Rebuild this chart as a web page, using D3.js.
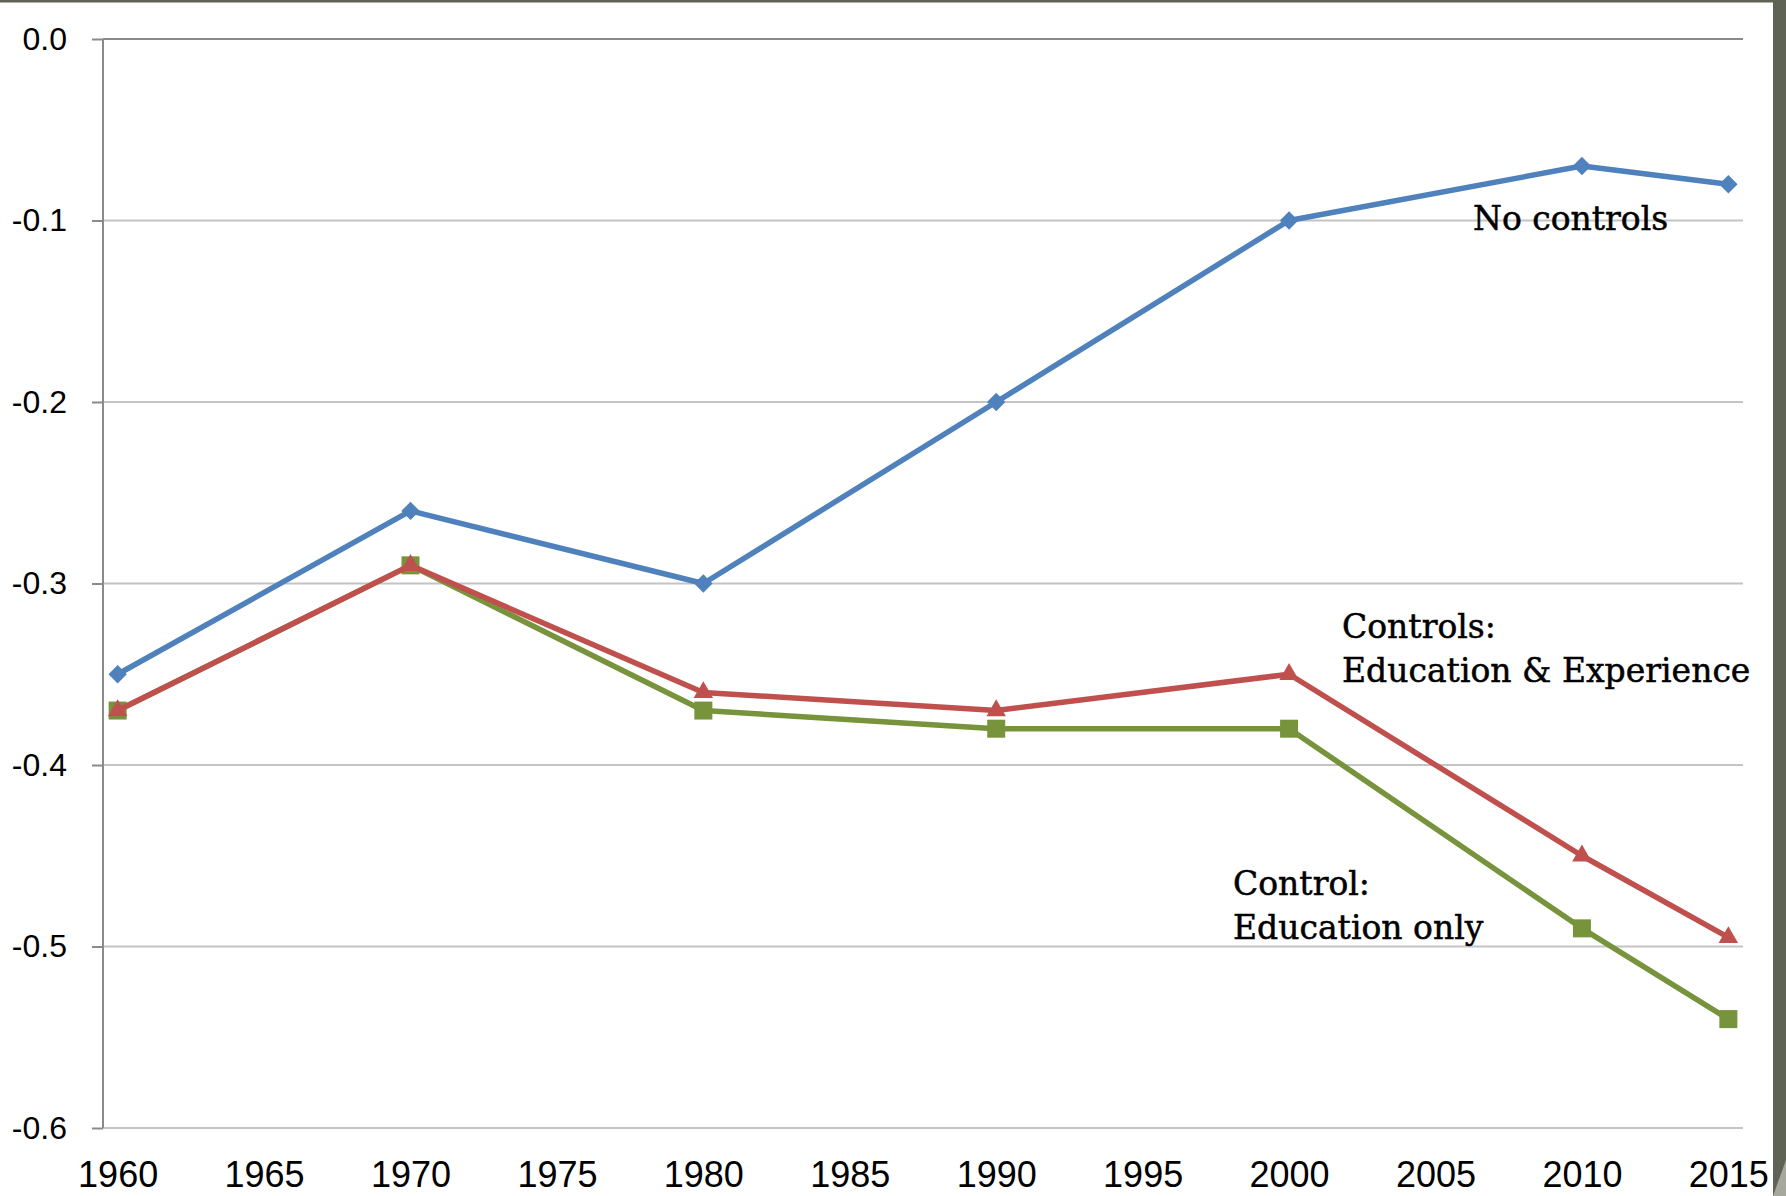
<!DOCTYPE html>
<html>
<head>
<meta charset="utf-8">
<script src="https://cdn.jsdelivr.net/npm/d3@7"></script>
<style>
  html, body { margin: 0; padding: 0; background: #ffffff; }
  svg { display: block; }
</style>
</head>
<body>
<svg id="chart" width="1786" height="1196"></svg>
<script>
// Wage gap estimates by census year, three model specifications
const years = [1960, 1970, 1980, 1990, 2000, 2010, 2015];
const noControls = [-0.35, -0.26, -0.30, -0.20, -0.10, -0.07, -0.08];
const eduExp     = [-0.37, -0.29, -0.36, -0.37, -0.35, -0.45, -0.495];
const eduOnly    = [-0.37, -0.29, -0.37, -0.38, -0.38, -0.49, -0.54];

const xTickYears  = [1960, 1965, 1970, 1975, 1980, 1985, 1990, 1995, 2000, 2005, 2010, 2015];
const yTickValues = [0.0, -0.1, -0.2, -0.3, -0.4, -0.5, -0.6];
const yTickLabels = ["0.0", "-0.1", "-0.2", "-0.3", "-0.4", "-0.5", "-0.6"];

const svg = d3.select("#chart");
const W = 1786, H = 1196;
const plot = { left: 103, right: 1743, top: 39, bottom: 1128 };

// Slide frame: dark strip along top and right edge
svg.append("rect").attr("x", 0).attr("y", 0).attr("width", W).attr("height", 2.5).attr("fill", "#5f6356");
svg.append("rect").attr("x", 1773).attr("y", 0).attr("width", W - 1773).attr("height", H).attr("fill", "#5f6356");
svg.append("path")
  .attr("d", "M1773,1196 L1786,1160 L1786,1196 Z")
  .attr("fill", "#a7a89d");

const x = d3.scaleLinear().domain([1959.5, 2015.5]).range([plot.left, plot.right]);
const y = d3.scaleLinear().domain([-0.6, 0]).range([plot.bottom, plot.top]);

// Horizontal gridlines
svg.append("g")
  .selectAll("line")
  .data(yTickValues.filter(v => v !== 0))
  .join("line")
  .attr("x1", plot.left).attr("x2", plot.right)
  .attr("y1", d => y(d)).attr("y2", d => y(d))
  .attr("stroke", "#c4c4c4")
  .attr("stroke-width", 2);

// Value axis on the left
const yAxis = svg.append("g")
  .attr("transform", `translate(${plot.left},0)`)
  .call(d3.axisLeft(y)
    .tickValues(yTickValues)
    .tickSize(11)
    .tickPadding(25)
    .tickFormat((d, i) => yTickLabels[i]));
yAxis.select(".domain")
  .attr("stroke", "#8a8a8a").attr("stroke-width", 2)
  .attr("d", `M0,${plot.top}V${plot.bottom}`);
yAxis.selectAll(".tick line").attr("stroke", "#8a8a8a").attr("stroke-width", 2);
yAxis.selectAll(".tick text")
  .attr("fill", "#000")
  .style("font-family", "'Liberation Sans', Arial, sans-serif")
  .style("font-size", "32px");

// Category axis line crossing at zero
svg.append("line")
  .attr("x1", plot.left).attr("x2", plot.right)
  .attr("y1", y(0)).attr("y2", y(0))
  .attr("stroke", "#8a8a8a").attr("stroke-width", 2);

// Year labels along the bottom
const xAxis = svg.append("g")
  .attr("transform", `translate(0,${plot.bottom})`)
  .call(d3.axisBottom(x)
    .tickValues(xTickYears)
    .tickSize(0)
    .tickPadding(33)
    .tickFormat(d3.format("d")));
xAxis.select(".domain").remove();
xAxis.selectAll(".tick text")
  .attr("fill", "#000")
  .style("font-family", "'Liberation Sans', Arial, sans-serif")
  .style("font-size", "36px");

// Series
const series = [
  { name: "noControls", values: noControls, color: "#4f81bd", marker: d3.symbolDiamond2, size: 215 },
  { name: "eduOnly",    values: eduOnly,    color: "#77933c", marker: d3.symbolSquare,   size: 324 },
  { name: "eduExp",     values: eduExp,     color: "#c0504d", marker: d3.symbolTriangle, size: 165 }
];

const line = d3.line().x(d => x(d.year)).y(d => y(d.value));

series.forEach(s => {
  const pts = years.map((yr, i) => ({ year: yr, value: s.values[i] }));
  const g = svg.append("g").attr("class", s.name);
  g.append("path")
    .datum(pts)
    .attr("d", line)
    .attr("fill", "none")
    .attr("stroke", s.color)
    .attr("stroke-width", 5.5)
    .attr("stroke-linejoin", "round");
  g.selectAll("path.marker")
    .data(pts)
    .join("path")
    .attr("class", "marker")
    .attr("transform", d => `translate(${x(d.year)},${y(d.value)})`)
    .attr("d", d3.symbol().type(s.marker).size(s.size))
    .attr("fill", s.color);
});

// Series annotations
const notes = [
  { lines: ["No controls"], x: 1473, y: 230 },
  { lines: ["Controls:", "Education & Experience"], x: 1342, y: 638 },
  { lines: ["Control:", "Education only"], x: 1233, y: 895 }
];
notes.forEach(n => {
  const t = svg.append("text")
    .attr("x", n.x).attr("y", n.y)
    .attr("fill", "#000")
    .attr("stroke", "#000")
    .attr("stroke-width", 0.5)
    .style("font-family", "'DejaVu Serif', serif")
    .style("font-size", "33px");
  n.lines.forEach((ln, i) => {
    t.append("tspan").attr("x", n.x).attr("dy", i === 0 ? 0 : 44).text(ln);
  });
});
</script>
</body>
</html>
